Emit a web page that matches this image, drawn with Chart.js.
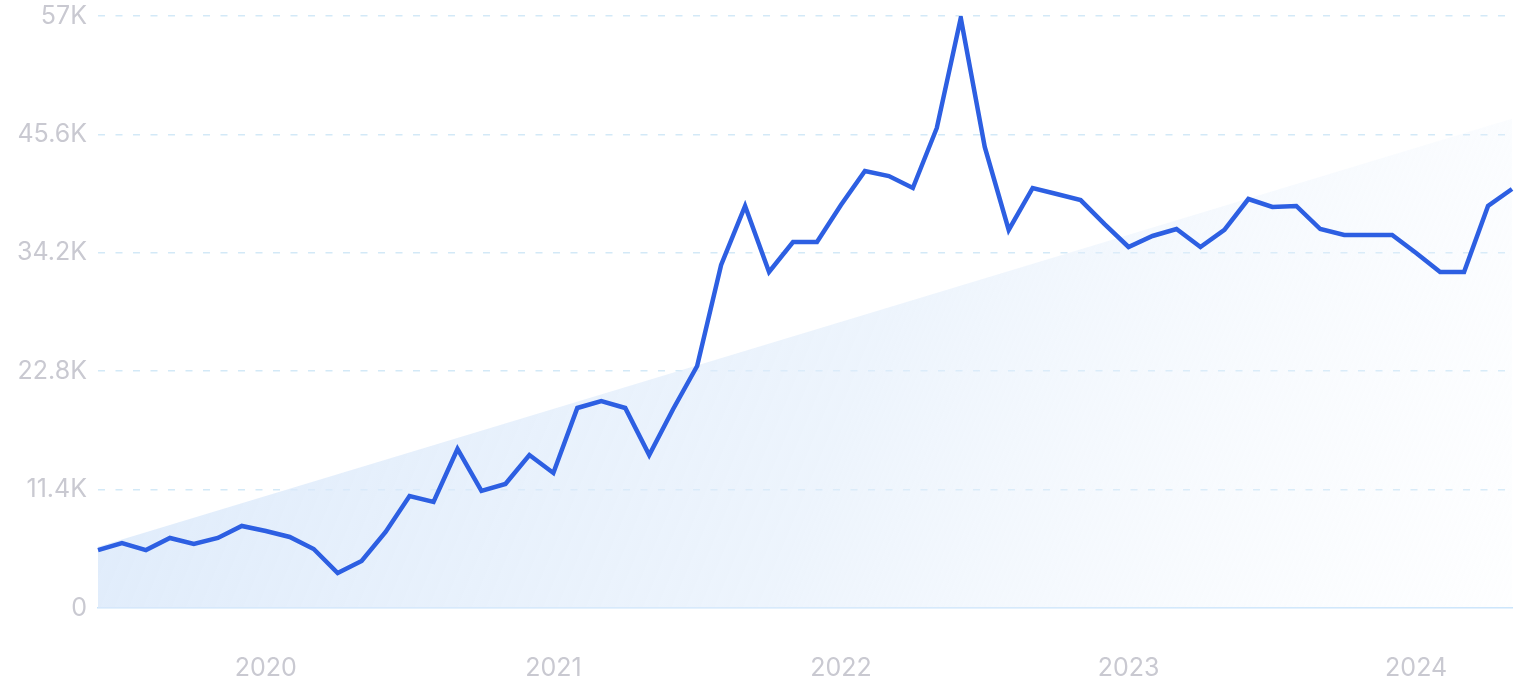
<!DOCTYPE html>
<html>
<head>
<meta charset="utf-8">
<script src="https://cdn.jsdelivr.net/npm/chart.js@4"></script>
<style>
  html, body { margin: 0; padding: 0; background: #fff; }
  #wrap { width: 1517px; height: 700px; }
</style>
</head>
<body>
<div id="wrap"><canvas id="trendChart"></canvas></div>
<script>
// monthly points, Jun 2019 .. May 2024
var months = [
  '2019-06','2019-07','2019-08','2019-09','2019-10','2019-11','2019-12',
  '2020-01','2020-02','2020-03','2020-04','2020-05','2020-06','2020-07','2020-08','2020-09','2020-10','2020-11','2020-12',
  '2021-01','2021-02','2021-03','2021-04','2021-05','2021-06','2021-07','2021-08','2021-09','2021-10','2021-11','2021-12',
  '2022-01','2022-02','2022-03','2022-04','2022-05','2022-06','2022-07','2022-08','2022-09','2022-10','2022-11','2022-12',
  '2023-01','2023-02','2023-03','2023-04','2023-05','2023-06','2023-07','2023-08','2023-09','2023-10','2023-11','2023-12',
  '2024-01','2024-02','2024-03','2024-04','2024-05'
];

var searches = [
  5580, 6260, 5580, 6740, 6160, 6740, 7900,
  7410, 6840, 5680, 3370, 4530, 7320, 10780, 10210, 15310, 11270, 11940, 14730,
  13000, 19260, 19930, 19260, 14730, 19160, 23300, 33030, 38710, 32350, 35240, 35240,
  38800, 42080, 41590, 40440, 46220, 56810, 44390, 36400, 40440, 39860, 39280, 36970,
  34760, 35820, 36490, 34760, 36400, 39380, 38610, 38710, 36490, 35910, 35910, 35910,
  34180, 32350, 32350, 38710, 40340
];

// straight trend band: first and last month only
var trendMonths = ['2019-06', '2024-05'];
var trendValues = [5900, 47100];

var yTicks = [0, 11400, 22800, 34200, 45600, 57000];

var ctx = document.getElementById('trendChart').getContext('2d');

function trendFill(context) {
  var area = context.chart.chartArea;
  if (!area) return 'rgba(220,234,251,0.8)';
  var g = context.chart.ctx.createLinearGradient(area.left, area.top, area.right, area.bottom);
  g.addColorStop(0, 'rgba(214,230,250,0.85)');
  g.addColorStop(0.55, 'rgba(225,237,251,0.6)');
  g.addColorStop(1, 'rgba(240,246,253,0.1)');
  return g;
}

function formatK(v) {
  if (v === 0) return '0';
  return (Math.round(v / 100) / 10) + 'K';
}

var chart = new Chart(ctx, {
  type: 'line',
  data: {
    labels: months,
    datasets: [
      {
        data: searches,
        borderColor: '#2d5fe2',
        borderWidth: 4.5,
        pointRadius: 0,
        tension: 0,
        fill: false,
        order: 0
      },
      {
        data: trendMonths.map(function (m, i) { return { x: m, y: trendValues[i] }; }),
        borderWidth: 0,
        borderColor: 'rgba(0,0,0,0)',
        backgroundColor: trendFill,
        pointRadius: 0,
        fill: 'origin',
        order: 1
      }
    ]
  },
  options: {
    responsive: true,
    maintainAspectRatio: false,
    animation: false,
    layout: {
      padding: { left: 0, right: 5, top: 0, bottom: 0 }
    },
    plugins: {
      legend: { display: false },
      tooltip: { enabled: false }
    },
    scales: {
      x: {
        grid: { display: false, drawTicks: false },
        border: { display: true, color: '#c9e4fb', width: 1.5 },
        afterFit: function (scale) { scale.height = 92; },
        ticks: {
          autoSkip: false,
          maxRotation: 0,
          padding: 45,
          color: '#c9c9d1',
          font: { family: 'Inter', size: 25 },
          callback: function (value, index) {
            var m = months[index];
            return m.slice(5) === '01' ? m.slice(0, 4) : null;
          }
        }
      },
      y: {
        min: 0,
        max: 57000,
        afterBuildTicks: function (scale) {
          scale.ticks = yTicks.map(function (v) { return { value: v }; });
        },
        afterFit: function (scale) {
          scale.width = 98;
          scale.paddingTop = 16;
        },
        grid: {
          drawTicks: false,
          lineWidth: 1.5,
          color: function (c) {
            return c.index === 0 ? 'rgba(0,0,0,0)' : '#d3e9f7';
          }
        },
        border: { display: false, dash: [7, 10.5] },
        ticks: {
          padding: 11,
          color: '#c9c9d1',
          font: { family: 'Inter', size: 25 },
          callback: function (v) { return formatK(v); }
        }
      }
    }
  }
});
</script>
</body>
</html>
